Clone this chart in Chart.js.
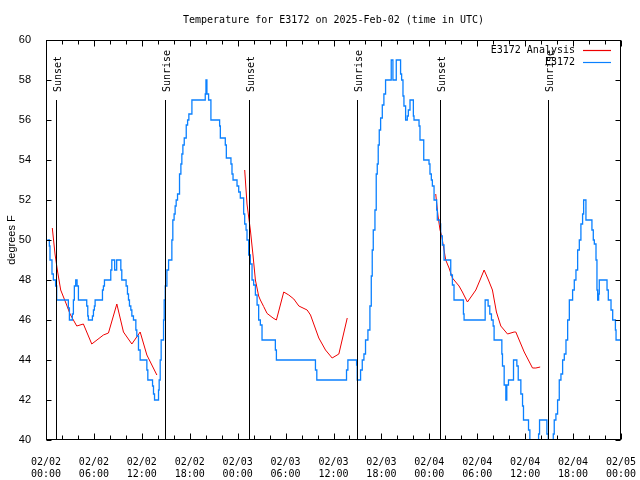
<!DOCTYPE html>
<html>
<head>
<meta charset="utf-8">
<script src="https://cdn.jsdelivr.net/npm/chart.js@4.4.1/dist/chart.umd.min.js"></script>
<style>
  html,body{margin:0;padding:0;background:#fff}
</style>
</head>
<body>
<canvas id="c" width="640" height="480"></canvas>
<script>
/* ---- data (hours since 02/02 00:00 UTC, degrees F) ---- */
const titleText = 'Temperature for E3172 on 2025-Feb-02 (time in UTC)';
const yAxisLabel = 'degrees F';
const seriesNames = ['E3172 Analysis', 'E3172'];
const seriesColors = ['#ee0000', '#0a80ff'];

const xTickDates = ['02/02','02/02','02/02','02/02','02/03','02/03','02/03','02/03','02/04','02/04','02/04','02/04','02/05'];
const xTickTimes = ['00:00','06:00','12:00','18:00','00:00','06:00','12:00','18:00','00:00','06:00','12:00','18:00','00:00'];

const sunTimes  = [1.25, 14.84, 25.38, 38.92, 49.34, 62.88];
const sunLabels = ['Sunset','Sunrise','Sunset','Sunrise','Sunset','Sunrise'];

// analysis (red), null = gap between runs
const redTimes = [0.79,1.13,1.42,1.84,2.59,3.01,3.85,4.68,5.73,7.19,7.82,8.87,9.70,10.75,11.79,12.63,13.88,
  19,
  24.88,25.17,25.59,25.93,26.22,26.63,26.84,27.26,27.68,28.43,28.85,29.77,30.40,31.03,31.66,32.70,33.12,34.16,35.0,35.83,36.67,37.72,
  43,
  48.80,49.09,49.34,49.55,50.05,50.47,50.89,51.30,51.72,52.14,52.77,53.30,53.82,54.35,54.86,55.40,55.90,56.40,56.95,57.79,58.62,58.83,59.88,60.92,61.34,61.88];
const redTemps = [50.6,49.3,48.5,47.5,46.75,46.3,45.7,45.8,44.8,45.25,45.35,46.8,45.4,44.8,45.4,44.25,43.25,
  null,
  53.5,51.8,50.5,49.2,48.0,47.2,47.0,46.67,46.33,46.1,46.0,47.4,47.25,47.05,46.7,46.5,46.25,45.1,44.5,44.1,44.3,46.1,
  null,
  52.3,51.2,50.5,50.2,49.0,48.6,48.1,47.9,47.7,47.4,46.9,47.2,47.5,48.0,48.5,48.0,47.5,46.4,45.7,45.3,45.4,45.4,44.4,43.6,43.6,43.65];

// observations (blue), value starts at the given time (stepped)
const blueTimes = [0.17,0.42,0.50,0.75,0.92,1.20,1.34,2.80,2.93,3.30,3.43,3.55,3.72,3.89,4.06,5.10,5.23,5.31,5.81,5.94,6.06,6.15,
  7.07,7.19,7.32,8.11,8.24,8.60,8.85,9.37,9.49,10.03,10.20,10.33,10.45,10.62,10.75,10.95,11.25,11.37,11.58,11.79,12.63,12.75,
  13.34,13.46,13.59,14.09,14.17,14.30,14.42,14.72,14.80,14.93,15.14,15.35,15.76,15.88,16.04,16.17,16.30,16.47,16.72,16.89,
  17.01,17.14,17.31,17.56,17.73,17.89,18.27,19.94,20.03,20.15,20.36,20.65,21.74,21.83,22.45,22.58,23.16,23.29,23.42,23.92,
  24.13,24.33,24.75,24.88,25.05,25.17,25.38,25.59,25.80,26.00,26.22,26.43,26.63,26.84,27.05,28.72,28.85,33.74,33.91,37.63,
  37.80,38.89,38.97,39.39,39.60,39.81,40.01,40.31,40.56,40.73,40.85,40.98,41.19,41.35,41.48,41.60,41.73,41.90,42.11,42.31,
  42.52,43.23,43.44,43.86,44.40,44.53,44.70,44.82,45.03,45.24,45.37,45.58,46.00,46.08,46.71,46.83,47.30,47.96,48.08,48.25,
  48.38,48.59,48.92,49.00,49.34,49.42,49.63,49.84,50.68,50.89,51.09,52.27,52.35,54.99,55.36,55.57,55.78,55.99,56.11,57.08,
  57.16,57.37,57.58,57.70,57.91,58.54,58.96,59.13,59.46,59.67,59.79,60.42,60.59,61.68,61.80,62.72,62.89,63.35,63.52,63.64,
  63.85,64.06,64.27,64.48,64.69,64.90,65.11,65.32,65.53,65.94,66.15,66.36,66.57,66.78,66.98,67.19,67.32,67.61,68.36,68.53,
  68.66,68.87,68.99,69.08,69.20,69.28,70.25,70.41,70.75,70.96,71.30,71.38,71.90];
const blueTemps = [50.0,49.7,49.0,48.3,48.0,47.7,47.0,46.6,46.0,46.3,47.0,47.7,48.0,47.7,47.0,46.7,46.2,46.0,46.2,46.5,46.7,47.0,
  47.5,47.7,48.0,48.5,49.0,48.5,49.0,48.5,48.0,47.7,47.3,47.0,46.7,46.5,46.2,46.0,45.5,45.2,44.5,44.0,43.5,43.0,
  42.7,42.3,42.0,42.5,43.0,44.0,45.0,46.0,47.0,47.7,48.5,49.0,50.0,51.0,51.3,51.7,52.0,52.3,53.3,53.8,
  54.3,54.75,55.1,55.75,56.0,56.3,57.0,57.3,58.0,57.3,57.0,56.0,55.7,55.1,54.75,54.1,53.8,53.3,53.0,52.7,
  52.4,52.1,51.3,50.8,50.5,50.0,49.25,48.8,48.0,47.75,47.25,46.75,46.0,45.75,45.0,44.5,44.0,43.5,43.0,43.5,
  44.0,43.75,43.0,43.5,44.0,44.3,45.0,45.5,46.7,48.2,49.5,50.5,51.5,53.3,53.8,54.75,55.5,56.1,56.75,57.3,
  58.0,59.0,58.0,59.0,58.3,58.0,57.2,56.7,56.0,56.2,56.5,57.0,56.2,56.0,55.7,55.0,54.0,53.8,53.3,53.0,
  52.7,52.0,51.5,51.0,50.8,50.2,49.75,49.0,48.25,47.75,47.0,46.3,46.0,47.0,46.7,46.3,46.0,45.7,45.0,44.3,
  43.7,42.75,42.0,42.75,43.0,44.0,43.7,43.0,42.3,41.7,41.0,40.5,39.5,40.3,41.0,40.3,39.5,40.0,40.3,41.0,
  41.3,42.0,43.0,43.3,44.0,44.3,45.0,46.0,47.0,47.5,48.0,48.5,49.5,50.0,50.8,51.3,52.0,51.0,50.5,50.0,
  49.8,49.0,47.5,47.0,47.3,48.0,47.5,47.0,46.5,46.0,45.5,45.0,45.0];

const xMin = 0, xMax = 72, xStep = 6, xMinorStep = 2;
const yMin = 40, yMax = 60, yStep = 2;
const sunLineTop = 57;

const MONO = '"DejaVu Sans Mono", monospace';
const SANS = '"Liberation Sans", Arial, sans-serif';

/* ---- extra drawing: frame, inward ticks, sun lines, title, legend ---- */
const gnuplotLook = {
  id: 'gnuplotLook',
  afterDatasetsDraw(chart){
    const {ctx, chartArea:a, scales:{x, y}} = chart;
    ctx.save();
    // sunrise / sunset markers
    ctx.strokeStyle = '#000';
    ctx.lineWidth = 1;
    sunTimes.forEach((t, i) => {
      const px = Math.round(x.getPixelForValue(t)) + 0.5;
      ctx.beginPath();
      ctx.moveTo(px, y.getPixelForValue(sunLineTop));
      ctx.lineTo(px, a.bottom);
      ctx.stroke();
      ctx.save();
      ctx.translate(px + 1.5, y.getPixelForValue(sunLineTop) - 8);
      ctx.rotate(-Math.PI/2);
      ctx.font = '10px ' + MONO;
      ctx.fillStyle = '#000';
      ctx.textAlign = 'left';
      ctx.textBaseline = 'middle';
      ctx.fillText(sunLabels[i], 0, 0);
      ctx.restore();
    });
    ctx.restore();
  },
  afterDraw(chart){
    const {ctx, chartArea:a, scales:{x, y}} = chart;
    ctx.save();
    ctx.strokeStyle = '#000';
    ctx.lineWidth = 1;
    const L = Math.round(a.left) + 0.5, R = Math.round(a.right) - 0.5;
    const T = Math.round(a.top) + 0.5, B = Math.round(a.bottom) - 0.5;
    ctx.strokeRect(L, T, R - L, B - T);
    ctx.beginPath();
    for(let v = xMin; v <= xMax; v += xMinorStep){
      const px = Math.round(x.getPixelForValue(v)) + 0.5;
      const len = (v % xStep === 0) ? 6 : 4;
      ctx.moveTo(px, B); ctx.lineTo(px, B - len);
      ctx.moveTo(px, T); ctx.lineTo(px, T + len);
    }
    for(let v = yMin; v <= yMax; v += yStep){
      const py = Math.round(y.getPixelForValue(v)) + 0.5;
      ctx.moveTo(L, py); ctx.lineTo(L + 5, py);
      ctx.moveTo(R, py); ctx.lineTo(R - 5, py);
    }
    ctx.stroke();

    // title
    ctx.fillStyle = '#000';
    ctx.font = '10px ' + MONO;
    ctx.textAlign = 'center';
    ctx.textBaseline = 'middle';
    ctx.fillText(titleText, (a.left + a.right) / 2, 20);

    // y axis title
    ctx.save();
    ctx.translate(12, (a.top + a.bottom) / 2);
    ctx.rotate(-Math.PI/2);
    ctx.font = '11px ' + SANS;
    ctx.fillText(yAxisLabel, 0, 0);
    ctx.restore();

    // legend
    ctx.font = '10px ' + MONO;
    ctx.textAlign = 'right';
    seriesNames.forEach((name, i) => {
      const ly = 50 + i * 12;
      ctx.fillStyle = '#000';
      ctx.fillText(name, a.right - 46, ly);
      ctx.strokeStyle = seriesColors[i];
      ctx.lineWidth = 1.2;
      ctx.beginPath();
      ctx.moveTo(a.right - 38, ly + 0.5);
      ctx.lineTo(a.right - 10, ly + 0.5);
      ctx.stroke();
    });
    ctx.restore();
  }
};

new Chart(document.getElementById('c'), {
  type: 'line',
  data: {
    datasets: [
      {
        label: seriesNames[1],
        data: blueTimes.map((t, i) => ({x: t, y: blueTemps[i]})),
        borderColor: seriesColors[1],
        borderWidth: 1.3,
        stepped: 'before',
        pointRadius: 0,
        fill: false,
        clip: 0,
        order: 0
      },
      {
        label: seriesNames[0],
        data: redTimes.map((t, i) => ({x: t, y: redTemps[i]})),
        borderColor: seriesColors[0],
        borderWidth: 1,
        pointRadius: 0,
        tension: 0,
        spanGaps: false,
        fill: false,
        clip: 0,
        order: 1
      }
    ]
  },
  options: {
    responsive: false,
    animation: false,
    devicePixelRatio: 1,
    layout: { padding: { left: 0, right: 19, top: 40, bottom: 0 } },
    plugins: { legend: {display: false}, title: {display: false}, tooltip: {enabled: false} },
    scales: {
      x: {
        type: 'linear', min: xMin, max: xMax,
        grid: { display: false },
        border: { display: false },
        afterFit: s => { s.height = 40; s.paddingLeft = 0; s.paddingRight = 0; },
        ticks: {
          stepSize: xStep, autoSkip: false, maxRotation: 0, padding: 8,
          color: '#000', font: { family: MONO, size: 10, lineHeight: 1.2 },
          callback: v => [xTickDates[v / xStep], xTickTimes[v / xStep]]
        }
      },
      y: {
        min: yMin, max: yMax,
        grid: { display: false },
        border: { display: false },
        afterFit: s => { s.width = 46; s.paddingTop = 0; s.paddingBottom = 0; },
        ticks: { stepSize: yStep, padding: 7, color: '#000', font: { family: SANS, size: 11 } }
      }
    }
  },
  plugins: [gnuplotLook]
});
</script>
</body>
</html>
